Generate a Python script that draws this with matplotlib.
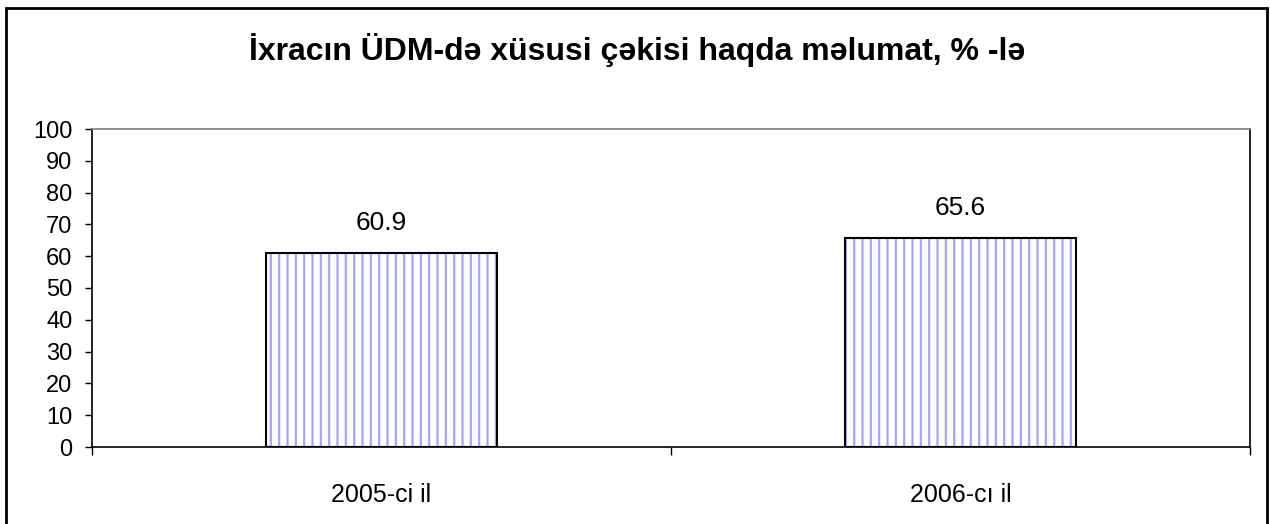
import matplotlib
matplotlib.use("Agg")
import matplotlib.pyplot as plt
from matplotlib.patches import Rectangle

plt.rcParams['font.family'] = ['Liberation Sans', 'DejaVu Sans']
plt.rcParams['hatch.linewidth'] = 1.6

# --- data ---
categories = ["2005-ci il", "2006-cı il"]
values = [60.9, 65.6]
title = "İxracın ÜDM-də xüsusi çəkisi haqda məlumat, % -lə"

fig = plt.figure(figsize=(12.7, 5.24), dpi=100)
ax = fig.add_axes([92/1270, 77/524, 1158/1270, 318/524])

x = list(range(len(categories)))
# hatched fill, then black outline on top
ax.bar(x, values, width=0.4, color="white", edgecolor="#a6a6ff", hatch="||", linewidth=0)
ax.bar(x, values, width=0.4, fill=False, edgecolor="black", linewidth=1.5)

for xi, v in zip(x, values):
    ax.annotate(f"{v:.1f}", (xi, v), xytext=(0, 13), textcoords="offset points",
                ha="center", va="bottom", fontsize=19)

ax.set_xlim(-0.5, len(categories) - 0.5)
ax.set_ylim(0, 100)
ax.set_yticks(range(0, 101, 10))
ax.tick_params(axis="y", length=5, width=1, pad=9, labelsize=17)

ax.set_xticks(x)
ax.set_xticklabels(categories)
ax.tick_params(axis="x", which="major", length=0, pad=26, labelsize=18)
ax.set_xticks([i - 0.5 for i in range(len(categories) + 1)], minor=True)
ax.tick_params(axis="x", which="minor", length=6, width=1)

for side in ["left", "bottom", "right"]:
    ax.spines[side].set_color("black")
    ax.spines[side].set_linewidth(1.2)
ax.spines["top"].set_color("#808080")
ax.spines["top"].set_linewidth(1.2)

fig.text(0.502, 1 - 50/524, title, ha="center", va="center", fontsize=23, fontweight="bold")

# outer chart frame
fig.add_artist(Rectangle((6/1270, -0.02), 1261/1270, 1.02 - 8/524, transform=fig.transFigure,
                         fill=False, edgecolor="black", linewidth=2))

fig.savefig("out.png", dpi=100)
